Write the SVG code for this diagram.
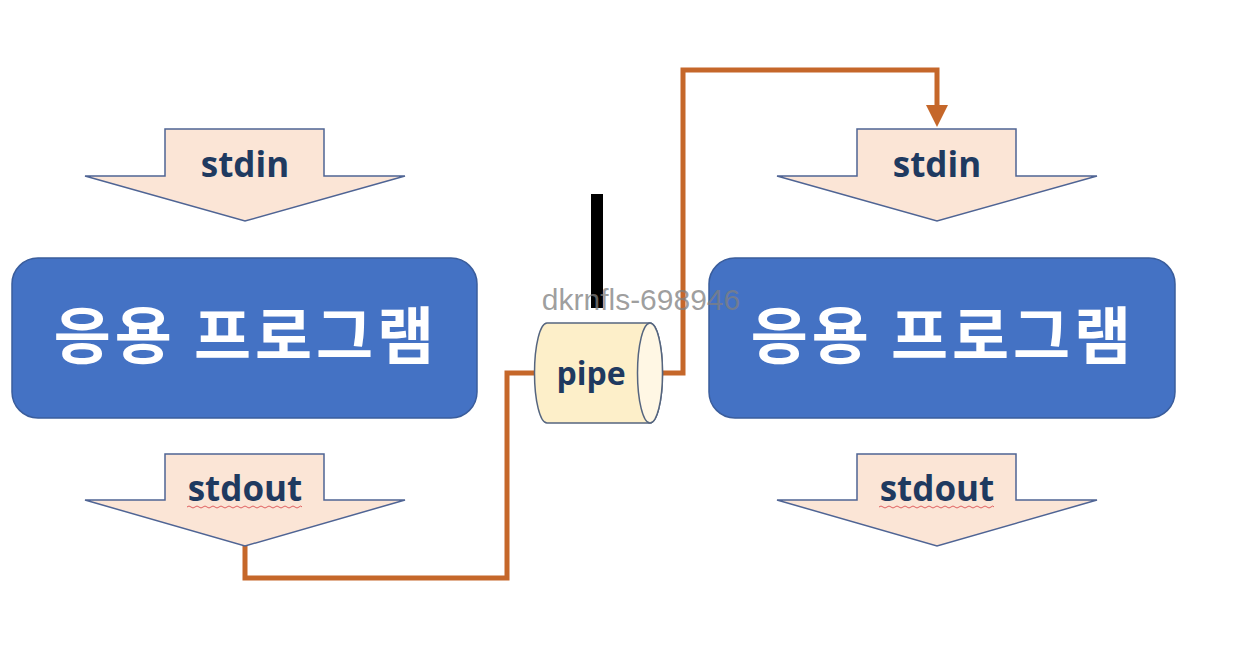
<svg xmlns="http://www.w3.org/2000/svg" width="1238" height="652" viewBox="0 0 1238 652">
<defs>
<style>
.arrow{fill:#FBE5D6;stroke:#4F6494;stroke-width:1.5;stroke-linejoin:miter}
.lbl{font-family:"Open Sans","Liberation Sans",sans-serif;font-weight:bold;font-size:35px;fill:#1F3A60;text-anchor:middle}
.box{fill:#4472C4;stroke:#3A5D9C;stroke-width:1.5}
.kr{font-family:"Noto Sans CJK KR","Noto Sans",sans-serif;font-weight:bold;font-size:62px;letter-spacing:4px;fill:#FFFFFF;text-anchor:middle}
.conn{fill:none;stroke:#C5672A;stroke-width:5;stroke-linejoin:miter}
.wavy{fill:none;stroke:#E06060;stroke-width:1}
</style>
</defs>
<rect width="1238" height="652" fill="#FFFFFF"/>

<g id="connectors">
<path class="conn" d="M245,546 V578 H507 V373 H536"/>
<path class="conn" d="M662,373 H683 V70 H937 V106"/>
<path d="M926,105 H948 L937,127 Z" fill="#C5672A"/>
</g>

<g id="left-stdin">
<path class="arrow" d="M165,129 H324 V176 H405 L245,221 L85,176 H165 Z"/>
<text class="lbl" x="245" y="177">stdin</text>
</g>
<g id="left-app">
<rect class="box" x="12" y="258" width="465" height="160" rx="26"/>
<text class="kr" x="246" y="359">응용 프로그램</text>
</g>
<g id="left-stdout">
<path class="arrow" d="M165,454 H324 V500 H405 L245,546 L85,500 H165 Z"/>
<text class="lbl" x="245" y="501">stdout</text>
<path class="wavy" d="M187,507 q2,-2 4,0 t4,0 t4,0 t4,0 t4,0 t4,0 t4,0 t4,0 t4,0 t4,0 t4,0 t4,0 t4,0 t4,0 t4,0 t4,0 t4,0 t4,0 t4,0 t4,0 t4,0 t4,0 t4,0 t4,0 t4,0 t4,0 t4,0 t4,0 t3,0"/>
</g>

<g id="right-stdin">
<path class="arrow" d="M857,129 H1016 V176 H1097 L937,221 L777,176 H857 Z"/>
<text class="lbl" x="937" y="177">stdin</text>
</g>
<g id="right-app">
<rect class="box" x="709" y="258" width="466" height="160" rx="26"/>
<text class="kr" x="943" y="359">응용 프로그램</text>
</g>
<g id="right-stdout">
<path class="arrow" d="M857,454 H1016 V500 H1097 L937,546 L777,500 H857 Z"/>
<text class="lbl" x="937" y="501">stdout</text>
<path class="wavy" d="M879,507 q2,-2 4,0 t4,0 t4,0 t4,0 t4,0 t4,0 t4,0 t4,0 t4,0 t4,0 t4,0 t4,0 t4,0 t4,0 t4,0 t4,0 t4,0 t4,0 t4,0 t4,0 t4,0 t4,0 t4,0 t4,0 t4,0 t4,0 t4,0 t4,0 t3,0"/>
</g>

<g id="pipe">
<rect x="591" y="194" width="12" height="114" fill="#000000"/>
<path d="M547,323 H650 A12.5,50 0 0 1 650,423 H547 A12.5,50 0 0 1 547,323 Z" fill="#FDEFC9" stroke="#55657F" stroke-width="1.5"/>
<ellipse cx="650" cy="373" rx="12.5" ry="50" fill="#FFF7E4" stroke="#55657F" stroke-width="1.5"/>
<text x="591" y="385" font-family="'Open Sans','Liberation Sans',sans-serif" font-weight="bold" font-size="32" fill="#1F3A60" text-anchor="middle">pipe</text>
</g>

<text x="641" y="310" font-family="'Liberation Sans',Arial,sans-serif" font-size="30" fill="#808080" fill-opacity="0.75" text-anchor="middle">dkrnfls-698946</text>
</svg>
